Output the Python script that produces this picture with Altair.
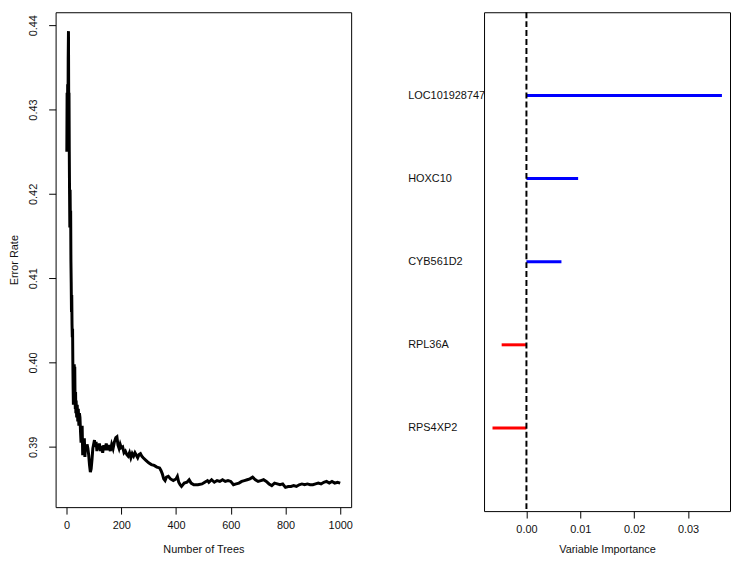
import altair as alt
import pandas as pd

# ---- data ----
trees = [1, 2, 3, 4, 5, 6, 7, 8, 9, 10, 11, 12, 13, 14, 15, 16, 17, 18, 19, 20,
         21, 22, 23, 24, 25, 26, 27, 28, 29, 30, 31, 32, 33, 34, 35, 37, 39, 41, 43, 45,
         47, 49, 51, 53, 55, 57, 59, 61, 63, 65, 67, 69, 71, 73, 75, 78, 81, 84, 87, 90,
         93, 96, 99, 102, 105, 108, 111, 114, 117, 120, 124, 128, 132, 136, 140, 145, 150, 155, 160, 165,
         170, 175, 180, 184, 188, 192, 196, 200, 205, 210, 215, 220, 225, 230, 235, 240, 245, 250, 255, 260,
         265, 270, 275, 280, 290, 300, 310, 320, 330, 340, 345, 350, 355, 360, 365, 372, 380, 390, 400, 405,
         410, 415, 420, 430, 440, 448, 455, 465, 480, 495, 505, 515, 520, 530, 540, 550, 560, 570, 580, 590,
         600, 610, 620, 630, 640, 650, 660, 670, 680, 690, 700, 710, 720, 730, 740, 750, 760, 770, 780, 790,
         800, 810, 820, 830, 840, 850, 860, 870, 880, 890, 900, 910, 920, 930, 940, 950, 960, 970, 980, 990,
         1000]
err = [0.4250, 0.4320, 0.4250, 0.4330, 0.4260, 0.4360, 0.4393, 0.4300, 0.4320, 0.4250,
       0.4200, 0.4160, 0.4205, 0.4165, 0.4180, 0.4120, 0.4095, 0.4060, 0.4080, 0.4045,
       0.4030, 0.4040, 0.4000, 0.3970, 0.3950, 0.3990, 0.3960, 0.3998, 0.3975, 0.3995,
       0.3960, 0.3945, 0.3965, 0.3940, 0.3955, 0.3935, 0.3950, 0.3930, 0.3945, 0.3925,
       0.3940, 0.3935, 0.3918, 0.3905, 0.3915, 0.3925, 0.3890, 0.3910, 0.3895, 0.3910,
       0.3888, 0.3900, 0.3903, 0.3895, 0.3903, 0.3898, 0.3890, 0.3878, 0.3870, 0.3874,
       0.3885, 0.3898, 0.3903, 0.3908, 0.3900, 0.3906, 0.3895, 0.3902, 0.3897, 0.3904,
       0.3895, 0.3901, 0.3893, 0.3902, 0.3896, 0.3904, 0.3896, 0.3902, 0.3895, 0.3903,
       0.3898, 0.3906, 0.3911, 0.3912, 0.3902, 0.3898, 0.3903, 0.3899, 0.3900, 0.3893,
       0.3895, 0.3891, 0.3889, 0.3893, 0.3887, 0.3892, 0.3889, 0.3893, 0.3890, 0.3887,
       0.3891, 0.3892, 0.3889, 0.3887, 0.3884, 0.3881, 0.3879, 0.3878, 0.3876, 0.3875,
       0.3872, 0.3868, 0.3862, 0.3860, 0.3864, 0.3865, 0.3862, 0.3860, 0.3862, 0.3865,
       0.3858, 0.3855, 0.3853, 0.3857, 0.3858, 0.3861, 0.3857, 0.3855, 0.3855, 0.3856,
       0.3858, 0.3860, 0.3858, 0.3861, 0.3858, 0.3860, 0.3859, 0.3861, 0.3859, 0.3860,
       0.3859, 0.3855, 0.3856, 0.3857, 0.3859, 0.3860, 0.3861, 0.3862, 0.3864, 0.3861,
       0.3859, 0.3860, 0.3861, 0.3859, 0.3856, 0.3854, 0.3857, 0.3856, 0.3855, 0.3856,
       0.3852, 0.3853, 0.3853, 0.3854, 0.3853, 0.3855, 0.3856, 0.3855, 0.3856, 0.3855,
       0.3855, 0.3856, 0.3857, 0.3856, 0.3858, 0.3859, 0.3857, 0.3859, 0.3857, 0.3858,
       0.3857]

genes = ["LOC101928747", "HOXC10", "CYB561D2", "RPL36A", "RPS4XP2"]
importance = [0.0363, 0.0096, 0.0065, -0.0046, -0.0063]

x_ticks_trees = [0, 200, 400, 600, 800, 1000]
y_ticks_err = [0.39, 0.40, 0.41, 0.42, 0.43, 0.44]
x_ticks_imp = [0.00, 0.01, 0.02, 0.03]

FONT = "Liberation Sans"

err_df = pd.DataFrame({"trees": trees, "err": err})
imp_df = pd.DataFrame({"gene": genes, "imp": importance, "zero": [0.0] * len(genes)})
imp_df["sign"] = ["pos" if v > 0 else "neg" for v in importance]
zero_df = pd.DataFrame({"zero": [0.0]})

left = alt.Chart(err_df).mark_line(color="black", strokeWidth=3, clip=True).encode(
    x=alt.X("trees:Q",
            scale=alt.Scale(domain=[-40, 1040], nice=False, zero=False),
            axis=alt.Axis(values=x_ticks_trees, format="d", title="Number of Trees", domain=False,
                          grid=False, tickSize=7, tickColor="black", labelPadding=6,
                          titlePadding=13)),
    y=alt.Y("err:Q",
            scale=alt.Scale(domain=[0.38285, 0.44154], nice=False, zero=False),
            axis=alt.Axis(values=y_ticks_err, format=".2f", title="Error Rate", domain=False,
                          grid=False, tickSize=7, tickColor="black", labelAngle=270,
                          labelAlign="center", labelBaseline="bottom", labelPadding=10,
                          titlePadding=8)),
).properties(width=298, height=499)

ximp = alt.X("zero:Q",
             scale=alt.Scale(domain=[-0.00787, 0.0378], nice=False, zero=False),
             axis=alt.Axis(values=x_ticks_imp, format=".2f", title="Variable Importance",
                           domain=False, grid=False, tickSize=7, tickColor="black",
                           labelPadding=6, titlePadding=9))

bars = alt.Chart(imp_df).mark_rule(strokeWidth=3).encode(
    x=ximp,
    x2="imp:Q",
    y=alt.Y("gene:N", sort=genes,
            scale=alt.Scale(type="point", padding=1),
            axis=alt.Axis(title=None, ticks=False, domain=False, grid=False,
                          labelAlign="left", labelPadding=77)),
    color=alt.Color("sign:N", scale=alt.Scale(domain=["pos", "neg"], range=["#0000FF", "#FF0000"]),
                    legend=None),
)

zero_rule = alt.Chart(zero_df).mark_rule(color="black", strokeDash=[6, 3], strokeWidth=2).encode(
    x=ximp
)

right = alt.layer(bars, zero_rule).properties(width=248, height=503)

chart = alt.hconcat(left, right, spacing=54).properties(
    padding={"left": 0, "top": 0, "right": 0, "bottom": 0}
).configure_view(
    stroke="black", strokeWidth=1
).configure_axis(
    labelFont=FONT, titleFont=FONT, labelFontSize=11, titleFontSize=11,
    labelColor="#111111", titleColor="#111111", titleFontWeight="normal"
)

chart.save("out.html", embed_options={"renderer": "svg", "actions": False})
